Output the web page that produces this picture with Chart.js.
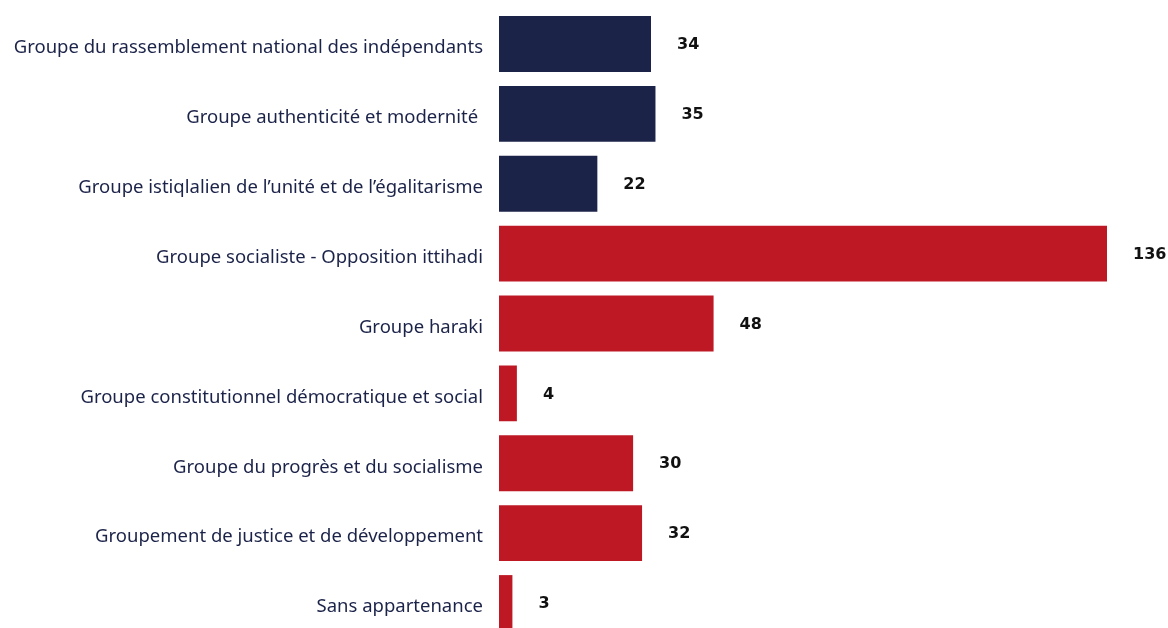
<!DOCTYPE html>
<html>
<head>
<meta charset="utf-8">
<script src="https://cdn.jsdelivr.net/npm/chart.js@4"></script>
<style>
html,body{margin:0;padding:0;background:#fff;overflow:hidden;}
#wrap{position:relative;width:1168px;height:640px;}
</style>
</head>
<body>
<div id="wrap"><canvas id="c"></canvas></div>
<script>
const categories = [
  "Groupe du rassemblement national des indépendants",
  "Groupe authenticité et modernité ",
  "Groupe istiqlalien de l’unité et de l’égalitarisme",
  "Groupe socialiste - Opposition ittihadi",
  "Groupe haraki",
  "Groupe constitutionnel démocratique et social",
  "Groupe du progrès et du socialisme",
  "Groupement de justice et de développement",
  "Sans appartenance"
];
const seats = [34, 35, 22, 136, 48, 4, 30, 32, 3];
const barColors = ["#1c2349","#1c2349","#1c2349","#be1824","#be1824","#be1824","#be1824","#be1824","#be1824"];

const valueLabels = {
  id: 'valueLabels',
  afterDatasetsDraw(chart) {
    const ctx = chart.ctx;
    const meta = chart.getDatasetMeta(0);
    ctx.save();
    ctx.font = 'bold 16px "DejaVu Sans", sans-serif';
    ctx.fillStyle = '#111111';
    ctx.textAlign = 'left';
    ctx.textBaseline = 'middle';
    meta.data.forEach((bar, i) => {
      ctx.fillText(String(seats[i]), bar.x + 26, bar.y + 1);
    });
    ctx.restore();
  }
};

new Chart(document.getElementById('c'), {
  type: 'bar',
  data: {
    labels: categories,
    datasets: [{
      data: seats,
      backgroundColor: barColors,
      borderWidth: 0,
      barPercentage: 0.8,
      categoryPercentage: 1.0
    }]
  },
  options: {
    indexAxis: 'y',
    responsive: true,
    maintainAspectRatio: false,
    animation: false,
    layout: { padding: { top: 9, bottom: 2, left: 0, right: 61 } },
    plugins: { legend: { display: false }, tooltip: { enabled: false } },
    scales: {
      x: { display: false, min: 0, max: 136 },
      y: {
        grid: { display: false, drawTicks: false },
        border: { display: false },
        ticks: {
          color: '#1c2349',
          padding: 16,
          labelOffset: 4,
          font: { family: '"Noto Sans", sans-serif', size: 18.5 }
        },
        afterFit(scale) {
          scale.width = 499;
          scale.paddingTop = 0;
          scale.paddingBottom = 0;
        }
      }
    }
  },
  plugins: [valueLabels]
});
</script>
</body>
</html>
